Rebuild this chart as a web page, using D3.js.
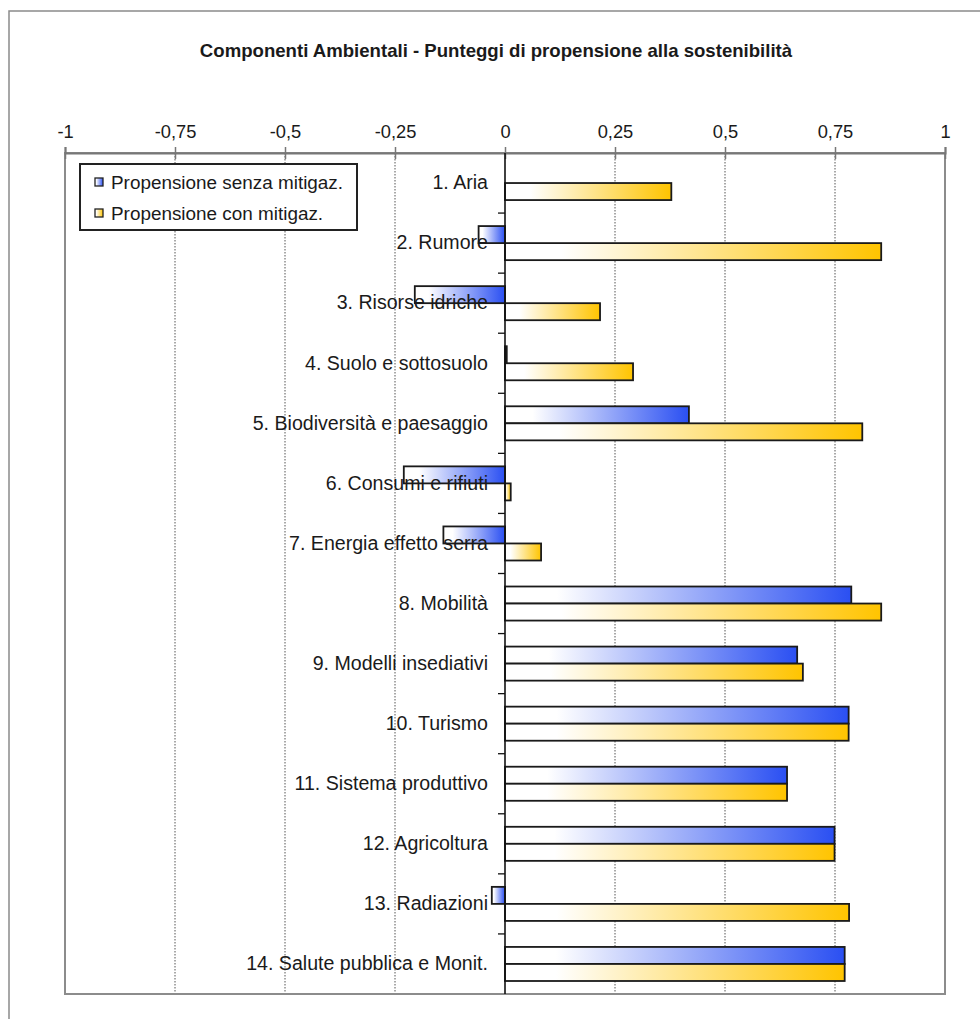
<!DOCTYPE html>
<html>
<head>
<meta charset="utf-8">
<script src="https://cdn.jsdelivr.net/npm/d3@7"></script>
<style>
  body { margin: 0; background: #fff; }
  svg { display: block; }
  text { font-family: "Liberation Sans", Arial, sans-serif; fill: #1a1a1a; }
</style>
</head>
<body>
<svg id="chart" width="980" height="1019"></svg>
<script>
// Environmental components – sustainability propensity scores
const title = "Componenti Ambientali - Punteggi di propensione alla sostenibilità";
const categories = [
  "1. Aria", "2. Rumore", "3. Risorse idriche", "4. Suolo e sottosuolo",
  "5. Biodiversità e paesaggio", "6. Consumi e rifiuti", "7. Energia effetto serra",
  "8. Mobilità", "9. Modelli insediativi", "10. Turismo", "11. Sistema produttivo",
  "12. Agricoltura", "13. Radiazioni", "14. Salute pubblica e Monit."
];
const seriesNames = ["Propensione senza mitigaz.", "Propensione con mitigaz."];
const senzaMitigaz = [0, -0.06, -0.205, 0.004, 0.418, -0.23, -0.14, 0.787, 0.664, 0.781, 0.641, 0.749, -0.03, 0.772];
const conMitigaz   = [0.378, 0.855, 0.216, 0.291, 0.812, 0.013, 0.082, 0.855, 0.677, 0.781, 0.641, 0.749, 0.782, 0.772];
const tickValues = [-1, -0.75, -0.5, -0.25, 0, 0.25, 0.5, 0.75, 1];
const tickLabels = ["-1", "-0,75", "-0,5", "-0,25", "0", "0,25", "0,5", "0,75", "1"];
const seriesColors = ["#2a4ff2", "#ffc400"];

const svg = d3.select("#chart");
const plot = { left: 65, right: 945, top: 153, bottom: 994 };

// outer frame
svg.append("rect")
  .attr("x", 9).attr("y", 11).attr("width", 1000).attr("height", 1040)
  .attr("fill", "none").attr("stroke", "#8a8a8a").attr("stroke-width", 1.5);

// title
svg.append("text")
  .attr("x", 496).attr("y", 57)
  .attr("text-anchor", "middle")
  .attr("font-weight", "bold").attr("font-size", 18.6)
  .text(title);

// gradients: white on the left fading into the series colour
const defs = svg.append("defs");
seriesColors.forEach((c, i) => {
  const g = defs.append("linearGradient").attr("id", "grad" + i)
    .attr("x1", 0).attr("x2", 1).attr("y1", 0).attr("y2", 0);
  g.append("stop").attr("offset", 0).attr("stop-color", "#ffffff");
  g.append("stop").attr("offset", 0.15).attr("stop-color", "#ffffff");
  g.append("stop").attr("offset", 1).attr("stop-color", c);
});

const x = d3.scaleLinear().domain([-1, 1]).range([plot.left, plot.right]);
const y = d3.scaleBand().domain(categories).range([plot.top, plot.bottom])
  .paddingInner(0.433).paddingOuter(0.2165);
const ySub = d3.scaleBand().domain([0, 1]).range([0, y.bandwidth()]);

// dotted gridlines
svg.append("g").selectAll("line")
  .data(tickValues.filter(v => v !== 0 && Math.abs(v) !== 1))
  .join("line")
  .attr("x1", d => x(d)).attr("x2", d => x(d))
  .attr("y1", plot.top).attr("y2", plot.bottom)
  .attr("stroke", "#555").attr("stroke-width", 1).attr("stroke-dasharray", "1.5,1.5");

// plot border
svg.append("rect")
  .attr("x", plot.left).attr("y", plot.top)
  .attr("width", plot.right - plot.left).attr("height", plot.bottom - plot.top)
  .attr("fill", "none").attr("stroke", "#8c8c8c").attr("stroke-width", 2);

// top value axis
const xAxis = svg.append("g")
  .attr("transform", `translate(0,${plot.top})`)
  .call(d3.axisTop(x).tickValues(tickValues)
    .tickFormat((d, i) => tickLabels[i]).tickSize(6).tickPadding(9));
xAxis.select(".domain").attr("stroke", "#777").attr("stroke-width", 2);
xAxis.selectAll(".tick line").attr("y1", -6).attr("y2", 6).attr("stroke", "#777").attr("stroke-width", 1.5);
xAxis.selectAll(".tick text").attr("font-size", 18.3).attr("fill", "#1a1a1a")
  .style("font-family", '"Liberation Sans", Arial, sans-serif');

// bars
const series = [senzaMitigaz, conMitigaz];
series.forEach((vals, si) => {
  svg.append("g").selectAll("rect")
    .data(vals.map((v, i) => ({ v, c: categories[i] })))
    .join("rect")
    .attr("x", d => x(Math.min(0, d.v)))
    .attr("width", d => Math.abs(x(d.v) - x(0)))
    .attr("y", d => y(d.c) + ySub(si))
    .attr("height", ySub.bandwidth())
    .attr("fill", `url(#grad${si})`)
    .attr("stroke", "#1a1a1a").attr("stroke-width", 1.8);
});

// zero line
svg.append("line")
  .attr("x1", x(0)).attr("x2", x(0))
  .attr("y1", plot.top).attr("y2", plot.bottom)
  .attr("stroke", "#111").attr("stroke-width", 1.6);

// category boundary ticks on the zero line
svg.append("g").selectAll("line")
  .data(d3.range(1, categories.length))
  .join("line")
  .attr("x1", x(0) - 7).attr("x2", x(0))
  .attr("y1", i => plot.top + i * y.step()).attr("y2", i => plot.top + i * y.step())
  .attr("stroke", "#111").attr("stroke-width", 1.3);

// category labels
const yAxis = svg.append("g")
  .attr("transform", `translate(${x(0)},0)`)
  .call(d3.axisLeft(y).tickSize(0).tickPadding(17));
yAxis.select(".domain").remove();
yAxis.selectAll(".tick text").attr("font-size", 19.6).attr("fill", "#1a1a1a")
  .style("font-family", '"Liberation Sans", Arial, sans-serif');

// legend
const legend = svg.append("g");
legend.append("rect")
  .attr("x", 80).attr("y", 164).attr("width", 277).attr("height", 66)
  .attr("fill", "#fff").attr("stroke", "#222").attr("stroke-width", 2);
seriesNames.forEach((name, i) => {
  const cy = 182 + i * 31;
  legend.append("rect")
    .attr("x", 95).attr("y", cy - 4).attr("width", 8).attr("height", 8)
    .attr("fill", `url(#grad${i})`).attr("stroke", "#222").attr("stroke-width", 1.3);
  legend.append("text")
    .attr("x", 111).attr("y", cy).attr("dy", "0.35em")
    .attr("font-size", 18.9)
    .text(name);
});
</script>
</body>
</html>
